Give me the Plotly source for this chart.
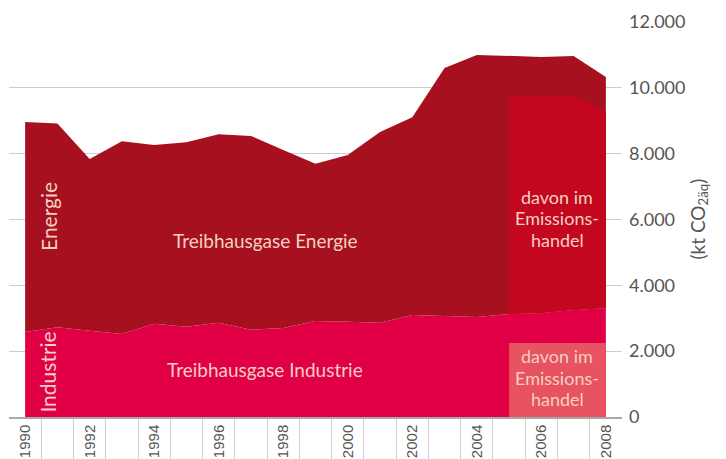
import plotly.graph_objects as go

# Jahre und Emissionen (kt CO2-Äquivalent)
years = list(range(1990, 2009))
industrie = [2580, 2730, 2620, 2520, 2830, 2740, 2860, 2650, 2700, 2920,
             2890, 2860, 3100, 3070, 3040, 3130, 3160, 3250, 3310]
gesamt = [8960, 8920, 7840, 8380, 8260, 8350, 8590, 8540, 8110, 7690,
          7960, 8660, 9110, 10600, 11000, 10970, 10940, 10970, 10330]

ets_years = [2005, 2006, 2007, 2008]
ets_energie = [9750, 9750, 9750, 9300]
ets_industrie = [2250, 2250, 2250, 2250]

tick_years = years[::2]

C_ENERGIE = "#A7111F"
C_INDUSTRIE = "#E10046"
C_ETS_E = "#C3071F"
C_ETS_I = "#E75360"
C_TEXT = "#F5CFC4"
GREY = "#555555"
FONT = "Lato"

fig = go.Figure()

fig.add_trace(go.Scatter(x=years, y=industrie, mode="lines", line=dict(width=0),
                         fill="tozeroy", fillcolor=C_INDUSTRIE, hoverinfo="skip"))
fig.add_trace(go.Scatter(x=years, y=gesamt, mode="lines", line=dict(width=0),
                         fill="tonexty", fillcolor=C_ENERGIE, hoverinfo="skip"))

# davon im Emissionshandel (Energie) sitzt auf der Industrie-Fläche
base = [industrie[years.index(y)] for y in ets_years]
fig.add_trace(go.Scatter(x=ets_years, y=base, mode="lines", line=dict(width=0),
                         hoverinfo="skip"))
fig.add_trace(go.Scatter(x=ets_years, y=ets_energie, mode="lines", line=dict(width=0),
                         fill="tonexty", fillcolor=C_ETS_E, hoverinfo="skip"))
fig.add_trace(go.Scatter(x=ets_years, y=ets_industrie, mode="lines", line=dict(width=0),
                         fill="tozeroy", fillcolor=C_ETS_I, hoverinfo="skip"))

def label(x, y, text, size=19, angle=0, yshift=0, color=C_TEXT):
    fig.add_annotation(x=x, y=y, xref="x", yref="y", text=text, showarrow=False,
                       textangle=angle, yshift=yshift,
                       font=dict(family=FONT, size=size, color=color))

label(1997.45, 5350, "Treibhausgase Energie")
label(1997.45, 1440, "Treibhausgase Industrie")
label(1990.7, 6100, "Energie", size=21, angle=-90)
label(1990.7, 1370, "Industrie", size=21, angle=-90)

# mehrzeilige Beschriftung mit engem Zeilenabstand
box_lines = ["davon im", "Emissions-", "handel"]
for y0 in (6040, 1190):
    for i, line in enumerate(box_lines):
        label(2006.5, y0, line, size=18, yshift=21.5 * (1 - i))

fig.add_annotation(x=1.0, xref="paper", xanchor="center", xshift=76, y=6000, yref="y",
                   text="(kt CO<sub>2äq</sub>)", showarrow=False, textangle=-90,
                   font=dict(family=FONT, size=19, color=GREY))

# die Seite hat 8 px Rand, daher 718x451 statt 726x459
fig.update_layout(
    width=718, height=451,
    margin=dict(l=1, r=104, t=14, b=42, autoexpand=False),
    plot_bgcolor="white", paper_bgcolor="white",
    showlegend=False,
    separators=",.",
    xaxis=dict(
        range=[1989.5, 2008.5], automargin=False,
        tickvals=tick_years, ticktext=[str(y) for y in tick_years],
        tickangle=-90, ticks="", ticklabelstandoff=0,
        tickfont=dict(family="Liberation Sans", size=15, color=GREY),
        showgrid=False, zeroline=False,
        showline=True, linecolor="#a8a8a8", linewidth=1.5,
        minor=dict(tickvals=[y + 0.5 for y in years[:-1]], ticks="outside",
                   ticklen=45, tickcolor="#cfcfcf", tickwidth=1),
    ),
    yaxis=dict(
        range=[0, 12000], dtick=2000, side="right", automargin=False,
        tickformat=",d", ticks="", ticklabelstandoff=6,
        tickfont=dict(family=FONT, size=18, color=GREY),
        showgrid=True, gridcolor="#cccccc", gridwidth=1,
        zeroline=False, showline=False,
    ),
)

fig.write_html("out.html")
